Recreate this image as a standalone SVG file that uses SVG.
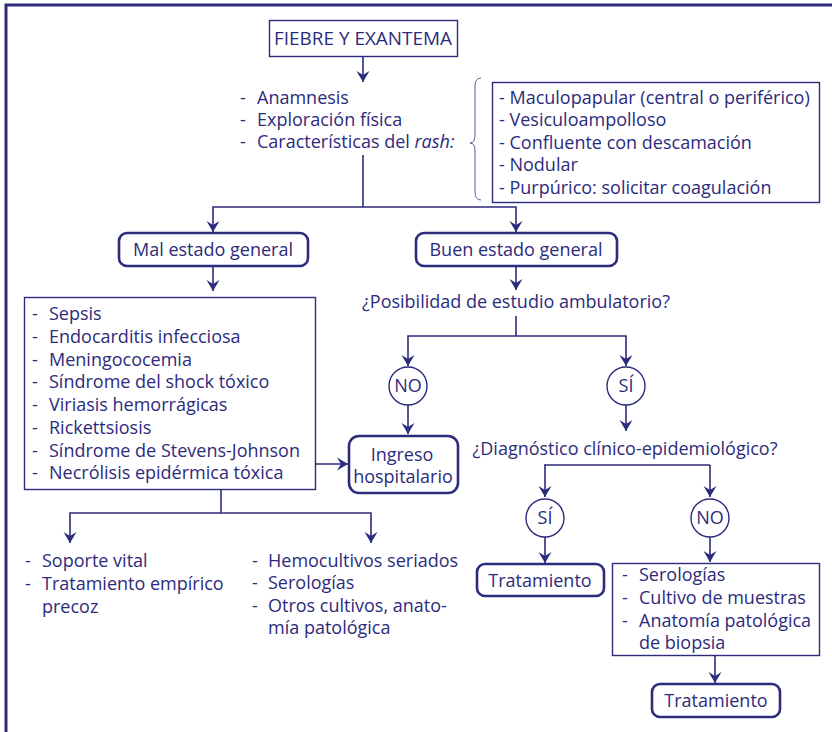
<svg xmlns="http://www.w3.org/2000/svg" width="832" height="732" viewBox="0 0 832 732">
<defs>
<style>
text{font-family:"Open Sans","Noto Sans","Liberation Sans",sans-serif;font-size:18px;fill:#2c2b7c;}
.c{text-anchor:middle;}
.box{fill:#fff;stroke:#2c2b7c;stroke-width:1.4;}
.rbox{fill:#fff;stroke:#2c2b7c;stroke-width:2.6;}
.circ{fill:#fff;stroke:#2c2b7c;stroke-width:1.4;}
.ln{fill:none;stroke:#2c2b7c;stroke-width:1.6;}
.arr{fill:none;stroke:#2c2b7c;stroke-width:1.6;marker-end:url(#ah);}
</style>
<marker id="ah" markerUnits="userSpaceOnUse" markerWidth="12" markerHeight="14" viewBox="0 0 12 14" refX="11" refY="7" orient="auto">
<path d="M0,0.5 L11,7 L0,13.5 L4,7 Z" fill="#2c2b7c"/>
</marker>
</defs>
<rect width="832" height="732" fill="#fff"/>
<path d="M6,732 V5 H832" fill="none" stroke="#2c2b7c" stroke-width="3"/>

<g id="connectors">
<line class="arr" x1="363" y1="57" x2="363" y2="82"/>
<polyline class="ln" points="363,155 363,207"/>
<polyline class="arr" points="363,207 213,207 213,232"/>
<polyline class="arr" points="363,207 516,207 516,232"/>
<line class="arr" x1="213" y1="266" x2="213" y2="291"/>
<line class="arr" x1="516" y1="266" x2="516" y2="290"/>
<line class="ln" x1="516" y1="316" x2="516" y2="336"/>
<polyline class="arr" points="516,336 408,336 408,366"/>
<polyline class="arr" points="516,336 626,336 626,366"/>
<line class="arr" x1="408" y1="405" x2="408" y2="434"/>
<line class="arr" x1="626" y1="405" x2="626" y2="431"/>
<line class="arr" x1="315" y1="464" x2="348" y2="464"/>
<line class="ln" x1="221" y1="489" x2="221" y2="513"/>
<polyline class="arr" points="221,513 70,513 70,543"/>
<polyline class="arr" points="221,513 371,513 371,543"/>
<line class="ln" x1="544" y1="465" x2="710" y2="465"/>
<line class="arr" x1="545" y1="465" x2="545" y2="497"/>
<line class="arr" x1="710" y1="465" x2="710" y2="497"/>
<line class="arr" x1="545" y1="537" x2="545" y2="563"/>
<line class="arr" x1="710" y1="537" x2="710" y2="562"/>
<line class="arr" x1="715" y1="655" x2="715" y2="683"/>
</g>

<g id="fiebre">
<rect class="box" x="269.5" y="20.5" width="188" height="36"/>
<text class="c" x="363" y="45" textLength="178" lengthAdjust="spacingAndGlyphs">FIEBRE Y EXANTEMA</text>
</g>

<g id="evaluacion">
<text x="240" y="104">-</text><text x="257" y="104">Anamnesis</text>
<text x="240" y="126">-</text><text x="257" y="126">Exploración física</text>
<text x="240" y="148">-</text><text x="257" y="148">Características del <tspan font-style="italic">rash:</tspan></text>
</g>

<g id="brace">
<path d="M481,78 Q475,78 475,86 V135 Q475,143 470,143 Q475,143 475,151 V192 Q475,200 481,200" fill="none" stroke="#5a5a95" stroke-width="1"/>
</g>

<g id="rash-tipos">
<rect class="box" x="492.5" y="82.5" width="327" height="120"/>
<text x="499" y="104">- Maculopapular (central o periférico)</text>
<text x="499" y="126">- Vesiculoampolloso</text>
<text x="499" y="149">- Confluente con descamación</text>
<text x="499" y="171">- Nodular</text>
<text x="499" y="194">- Purpúrico: solicitar coagulación</text>
</g>

<g id="mal-estado">
<rect class="rbox" x="119" y="233" width="189" height="33" rx="8"/>
<text class="c" x="213" y="256">Mal estado general</text>
</g>

<g id="buen-estado">
<rect class="rbox" x="416" y="233" width="201" height="33" rx="8"/>
<text class="c" x="516" y="256">Buen estado general</text>
</g>

<g id="posibilidad">
<text class="c" x="516" y="308">¿Posibilidad de estudio ambulatorio?</text>
</g>

<g id="diagnosticos-graves">
<rect class="box" x="24.5" y="297.5" width="291" height="192"/>
<text x="32" y="320">-</text><text x="49" y="320">Sepsis</text>
<text x="32" y="343">-</text><text x="49" y="343">Endocarditis infecciosa</text>
<text x="32" y="366">-</text><text x="49" y="366">Meningococemia</text>
<text x="32" y="388">-</text><text x="49" y="388">Síndrome del shock tóxico</text>
<text x="32" y="411">-</text><text x="49" y="411">Viriasis hemorrágicas</text>
<text x="32" y="434">-</text><text x="49" y="434">Rickettsiosis</text>
<text x="32" y="457">-</text><text x="49" y="457">Síndrome de Stevens-Johnson</text>
<text x="32" y="479">-</text><text x="49" y="479">Necrólisis epidérmica tóxica</text>
</g>

<g id="no-1">
<circle class="circ" cx="408" cy="386" r="19"/>
<text class="c" x="408" y="392">NO</text>
</g>

<g id="si-1">
<circle class="circ" cx="626" cy="386" r="19"/>
<text class="c" x="626" y="392">SÍ</text>
</g>

<g id="ingreso">
<rect class="rbox" x="349" y="436" width="109" height="57" rx="10"/>
<text class="c" x="402" y="461">Ingreso</text>
<text class="c" x="403" y="483">hospitalario</text>
</g>

<g id="diagnostico-clinico">
<text class="c" x="625" y="455">¿Diagnóstico clínico-epidemiológico?</text>
</g>

<g id="soporte">
<text x="25" y="567">-</text><text x="42" y="567">Soporte vital</text>
<text x="25" y="590">-</text><text x="42" y="590">Tratamiento empírico</text>
<text x="42" y="613">precoz</text>
</g>

<g id="estudios">
<text x="252" y="567">-</text><text x="268" y="567">Hemocultivos seriados</text>
<text x="252" y="589">-</text><text x="268" y="589">Serologías</text>
<text x="252" y="612">-</text><text x="268" y="612">Otros cultivos, anato-</text>
<text x="268" y="634">mía patológica</text>
</g>

<g id="si-2">
<circle class="circ" cx="545" cy="518" r="19"/>
<text class="c" x="545" y="524">SÍ</text>
</g>

<g id="no-2">
<circle class="circ" cx="710" cy="518" r="19"/>
<text class="c" x="710" y="524">NO</text>
</g>

<g id="tratamiento-1">
<rect class="rbox" x="477" y="564" width="127" height="32" rx="8"/>
<text class="c" x="540" y="587">Tratamiento</text>
</g>

<g id="pruebas">
<rect class="box" x="612.5" y="563.5" width="207" height="92"/>
<text x="622" y="581">-</text><text x="639" y="581">Serologías</text>
<text x="622" y="604">-</text><text x="639" y="604">Cultivo de muestras</text>
<text x="622" y="627">-</text><text x="639" y="627">Anatomía patológica</text>
<text x="639" y="649">de biopsia</text>
</g>

<g id="tratamiento-2">
<rect class="rbox" x="652" y="684" width="128" height="33" rx="8"/>
<text class="c" x="716" y="707">Tratamiento</text>
</g>
</svg>
